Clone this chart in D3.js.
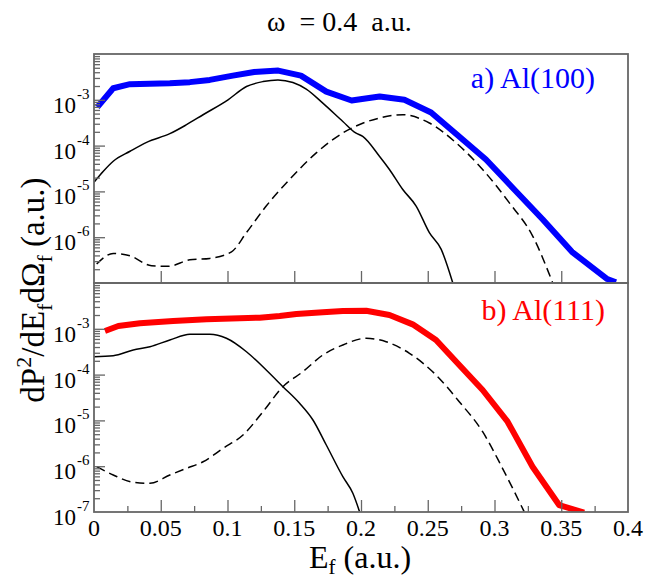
<!DOCTYPE html>
<html>
<head>
<meta charset="utf-8">
<script src="https://cdn.jsdelivr.net/npm/d3@7"></script>
<style>
  body { margin: 0; background: #fff; }
</style>
</head>
<body>
<div id="chart"></div>
<script>
'use strict';

// ---- data (E_f in a.u., probability in a.u.) ----
// a) Al(100), top panel
const alTotalX = [0.0025, 0.0144, 0.0269, 0.0568, 0.0718, 0.0867, 0.104, 0.120, 0.138, 0.155, 0.174, 0.193, 0.206, 0.214, 0.2325, 0.2525, 0.272, 0.2936, 0.3148, 0.336, 0.358, 0.3845, 0.391];
const alTotalY = [6.93e-4, 1.79e-3, 2.19e-3, 2.31e-3, 2.43e-3, 2.72e-3, 3.37e-3, 4.06e-3, 4.34e-3, 3.37e-3, 1.51e-3, 9.66e-4, 1.09e-3, 1.18e-3, 1.0e-3, 5.30e-4, 1.73e-4, 4.97e-5, 1.10e-5, 2.46e-6, 4.79e-7, 1.22e-7, 1.04e-7];
const alSolidX = [0, 0.007, 0.0144, 0.027, 0.0394, 0.0568, 0.0693, 0.0817, 0.1004, 0.1142, 0.1266, 0.1378, 0.149, 0.159, 0.1714, 0.1864, 0.196, 0.2013, 0.2138, 0.2213, 0.2313, 0.2413, 0.2512, 0.26, 0.2686];
const alSolidY = [1.59e-5, 2.76e-5, 4.56e-5, 7.52e-5, 1.18e-4, 1.82e-4, 2.86e-4, 4.72e-4, 1.0e-3, 1.95e-3, 2.50e-3, 2.72e-3, 2.38e-3, 1.71e-3, 8.47e-4, 3.37e-4, 1.89e-4, 1.59e-4, 5.85e-5, 3.01e-5, 1.10e-5, 4.79e-6, 1.26e-6, 5.48e-7, 1.04e-7];
const alDashX = [0.002, 0.0144, 0.027, 0.0431, 0.0556, 0.0718, 0.0867, 0.103, 0.1142, 0.129, 0.1465, 0.1665, 0.1864, 0.2138, 0.2313, 0.2512, 0.2712, 0.2911, 0.311, 0.3285, 0.3434];
const alDashY = [2.59e-7, 4.43e-7, 3.92e-7, 2.38e-7, 2.31e-7, 3.21e-7, 3.44e-7, 4.79e-7, 1.26e-6, 4.79e-6, 1.82e-5, 6.93e-5, 1.89e-4, 4.0e-4, 4.72e-4, 3.11e-4, 1.15e-4, 3.01e-5, 5.68e-6, 1.07e-6, 1.04e-7];

// b) Al(111), bottom panel
const bTotalX = [0.0082, 0.0182, 0.0344, 0.0593, 0.0843, 0.1092, 0.1241, 0.1391, 0.1516, 0.1714, 0.1864, 0.2039, 0.2213, 0.2387, 0.2562, 0.2736, 0.2911, 0.3098, 0.3285, 0.3484, 0.3671];
const bTotalY = [8.95e-4, 1.15e-3, 1.32e-3, 1.48e-3, 1.61e-3, 1.69e-3, 1.75e-3, 1.90e-3, 2.10e-3, 2.29e-3, 2.45e-3, 2.48e-3, 2.0e-3, 1.25e-3, 5.69e-4, 1.62e-4, 4.61e-5, 9.38e-6, 9.75e-7, 1.42e-7, 9.7e-8];
const bSolidX = [0, 0.0144, 0.0294, 0.0419, 0.0568, 0.0718, 0.0867, 0.0992, 0.1142, 0.129, 0.1415, 0.154, 0.164, 0.174, 0.1864, 0.1939, 0.1989];
const bSolidY = [2.46e-4, 2.59e-4, 3.44e-4, 4.06e-4, 5.69e-4, 7.59e-4, 7.59e-4, 6.21e-4, 3.16e-4, 1.26e-4, 5.45e-5, 2.36e-5, 1.02e-5, 2.90e-6, 5.90e-7, 2.56e-7, 1.02e-7];
const bDashX = [0.002, 0.0144, 0.0294, 0.0419, 0.0568, 0.0693, 0.0817, 0.0967, 0.1116, 0.1266, 0.1415, 0.1565, 0.1714, 0.1864, 0.2039, 0.2188, 0.2363, 0.2562, 0.2736, 0.2911, 0.306, 0.3222];
const bDashY = [9.75e-7, 6.43e-7, 4.45e-7, 4.24e-7, 6.43e-7, 9.0e-7, 1.25e-6, 2.46e-6, 4.80e-6, 1.55e-5, 5.45e-5, 1.16e-4, 2.68e-4, 4.43e-4, 6.21e-4, 5.22e-4, 2.92e-4, 9.79e-5, 2.56e-5, 5.66e-6, 9.0e-7, 1.02e-7];

// axis ticks
const xTicks = [0, 0.05, 0.1, 0.15, 0.2, 0.25, 0.3, 0.35, 0.4];
const xTickLabels = ["0", "0.05", "0.1", "0.15", "0.2", "0.25", "0.3", "0.35", "0.4"];
const xMinorTicks = [0.025, 0.075, 0.125, 0.175, 0.225, 0.275, 0.325, 0.375];
const topExponents = [-3, -4, -5, -6];
const bottomExponents = [-3, -4, -5, -6, -7];

(function() {
    const W = 647, H = 581;
    const left = 94, right = 628;
    const topY0 = 54, midY = 283, botY1 = 512;
    const frameColor = "#666";
    const serif = "'Liberation Serif', 'Times New Roman', 'DejaVu Serif', serif";

    const svg = d3.select("#chart").append("svg")
        .attr("width", W)
        .attr("height", H)
        .attr("font-family", serif)
        .style("font-family", serif);

    const x = d3.scaleLinear().domain([0, 0.4]).range([left, right]);

    function zip(xs, ys) {
        return xs.map(function(v, i) { return [v, ys[i]]; });
    }

    function drawPanel(id, y0, y1, series, exponents, withMinorX) {
        const y = d3.scaleLog().domain([1e-7, 1e-2]).range([y1, y0]);

        svg.append("clipPath").attr("id", id)
            .append("rect")
            .attr("x", left).attr("y", y0)
            .attr("width", right - left).attr("height", y1 - y0);

        const g = svg.append("g").attr("clip-path", "url(#" + id + ")");

        series.forEach(function(s) {
            const line = d3.line()
                .x(function(d) { return x(d[0]); })
                .y(function(d) { return y(d[1]); })
                .curve(s.smooth ? d3.curveMonotoneX : d3.curveLinear);
            g.append("path")
                .datum(zip(s.x, s.y))
                .attr("fill", "none")
                .attr("stroke", s.color)
                .attr("stroke-width", s.width)
                .attr("stroke-dasharray", s.dash || null)
                .attr("stroke-linejoin", "round")
                .attr("d", line);
        });

        // minor log ticks
        const minorY = [];
        for (let e = -7; e < -2; e++) {
            for (let k = 2; k <= 9; k++) minorY.push(k * Math.pow(10, e));
        }
        const majorY = [1e-6, 1e-5, 1e-4, 1e-3];

        const yMinor = svg.append("g")
            .attr("transform", "translate(" + left + ",0)")
            .call(d3.axisLeft(y).tickValues(minorY).tickSize(-6).tickFormat(""));
        const yMajor = svg.append("g")
            .attr("transform", "translate(" + left + ",0)")
            .call(d3.axisLeft(y).tickValues(majorY).tickSize(-11).tickFormat(""));

        const xMajor = svg.append("g")
            .attr("transform", "translate(0," + y1 + ")")
            .call(d3.axisBottom(x).tickValues(xTicks.slice(1, -1)).tickSize(-12).tickFormat(""));
        const axes = [yMinor, yMajor, xMajor];
        if (withMinorX) {
            axes.push(svg.append("g")
                .attr("transform", "translate(0," + y1 + ")")
                .call(d3.axisBottom(x).tickValues(xMinorTicks).tickSize(-6).tickFormat("")));
        }
        axes.forEach(function(a) {
            a.select(".domain").remove();
            a.selectAll("line").attr("stroke", frameColor).attr("stroke-width", 1.3);
        });

        // frame
        svg.append("rect")
            .attr("x", left).attr("y", y0)
            .attr("width", right - left).attr("height", y1 - y0)
            .attr("fill", "none")
            .attr("stroke", frameColor)
            .attr("stroke-width", 1.8);

        // 10^n labels
        exponents.forEach(function(e) {
            const py = y(Math.pow(10, e));
            svg.append("text")
                .attr("x", 76).attr("y", py + 13)
                .attr("text-anchor", "end")
                .attr("font-size", "23px")
                .text("10");
            svg.append("text")
                .attr("x", 77).attr("y", py - 1)
                .attr("font-size", "15px")
                .text(String(e));
        });
        return y;
    }

    drawPanel("clipTop", topY0, midY, [
        { x: alDashX, y: alDashY, color: "#000", width: 1.5, dash: "9,5", smooth: true },
        { x: alSolidX, y: alSolidY, color: "#000", width: 1.5, smooth: true },
        { x: alTotalX, y: alTotalY, color: "#0000ff", width: 6 }
    ], topExponents, false);

    drawPanel("clipBot", midY, botY1, [
        { x: bDashX, y: bDashY, color: "#000", width: 1.5, dash: "9,5", smooth: true },
        { x: bSolidX, y: bSolidY, color: "#000", width: 1.5, smooth: true },
        { x: bTotalX, y: bTotalY, color: "#ff0000", width: 6 }
    ], bottomExponents, true);

    // x tick labels
    svg.selectAll(".xlab")
        .data(xTicks)
        .enter().append("text")
        .attr("class", "xlab")
        .attr("x", function(d) { return x(d); })
        .attr("y", 536)
        .attr("text-anchor", "middle")
        .attr("font-size", "24px")
        .text(function(d, i) { return xTickLabels[i]; });

    // panel labels
    svg.append("text")
        .attr("x", 595).attr("y", 88)
        .attr("text-anchor", "end")
        .attr("font-size", "30px")
        .attr("fill", "#0000ff")
        .text("a) Al(100)");
    svg.append("text")
        .attr("x", 605).attr("y", 320)
        .attr("text-anchor", "end")
        .attr("font-size", "30px")
        .attr("fill", "#ff0000")
        .text("b) Al(111)");

    // title
    svg.append("text")
        .attr("x", 267).attr("y", 31)
        .attr("font-size", "28px")
        .attr("xml:space", "preserve")
        .text("\u03c9  = 0.4  a.u.");

    // x label
    const xl = svg.append("text")
        .attr("x", 360).attr("y", 568)
        .attr("text-anchor", "middle")
        .attr("font-size", "32px");
    xl.append("tspan").text("E");
    xl.append("tspan").attr("font-size", "21px").attr("dy", 6).text("f");
    xl.append("tspan").attr("dy", -6).text(" (a.u.)");

    // y label
    const yl = svg.append("text")
        .attr("transform", "translate(44,290) rotate(-90)")
        .attr("text-anchor", "middle")
        .attr("font-size", "33px");
    yl.append("tspan").text("dP");
    yl.append("tspan").attr("font-size", "22px").attr("dy", -13).text("2");
    yl.append("tspan").attr("dy", 13).text("/dE");
    yl.append("tspan").attr("font-size", "22px").attr("dy", 8).text("f");
    yl.append("tspan").attr("dy", -8).text("d\u03a9");
    yl.append("tspan").attr("font-size", "22px").attr("dy", 8).text("f");
    yl.append("tspan").attr("dy", -8).text(" (a.u.)");
})();
</script>
</body>
</html>
